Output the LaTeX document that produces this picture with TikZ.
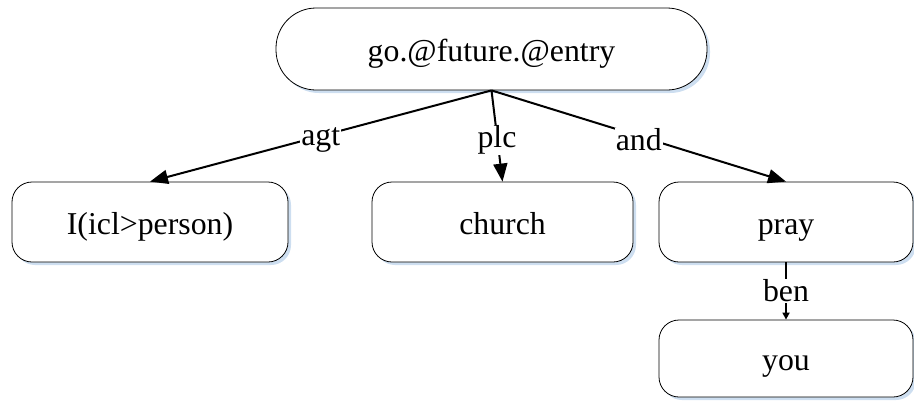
\documentclass[tikz,border=0pt]{standalone}
\usepackage{fontspec}
\setmainfont{Liberation Serif}
\usepackage{tikz}
\usetikzlibrary{arrows.meta,positioning,shadows}
\definecolor{unlshadow}{RGB}{205,222,240}

\tikzset{
  unlnode/.style={draw=black,thin,fill=white,rounded corners=10pt,
    font=\fontsize{15.9}{19}\selectfont,text height=12pt,text depth=0pt,
    drop shadow={shadow xshift=1.5pt,shadow yshift=-1.5pt,fill=unlshadow,opacity=1}},
  unlrel/.style={-{Triangle[length=9pt,width=7pt]},line width=1pt},
  unllabel/.style={fill=white,inner sep=0.5pt,font=\fontsize{15.9}{19}\selectfont}
}

\begin{document}
\begin{tikzpicture}[x=0.5pt,y=-0.5pt]
  \useasboundingbox (0,0) rectangle (914,402);
  % UNL nodes
  \node[unlnode,rounded corners=20pt,minimum width=215.5pt,minimum height=41pt] (entry) at (491.5,49) {go.@future.@entry};
  \node[unlnode,minimum width=138pt,minimum height=40pt] (icl) at (150,222) {I(icl>person)};
  \node[unlnode,minimum width=130.5pt,minimum height=40pt] (church) at (502.5,222) {church};
  \node[unlnode,minimum width=127pt,minimum height=40pt] (pray) at (786,222) {pray};
  \node[unlnode,minimum width=127pt,minimum height=38.5pt] (you) at (786,358.5) {you};
  %
  % Relations
  \draw[unlrel] (entry.south) -- node[unllabel,yshift=-2pt] {agt} (icl.north);
  \draw[unlrel] (entry.south) -- node[unllabel,yshift=-2pt] {plc} (church.north);
  \draw[unlrel] (entry.south) -- node[unllabel,yshift=-2pt] {and} (pray.north);
  \draw[-{Triangle[length=3.5pt,width=3.5pt]},line width=0.8pt] (pray.south) -- node[unllabel] {ben} (you.north);
\end{tikzpicture}
\end{document}
